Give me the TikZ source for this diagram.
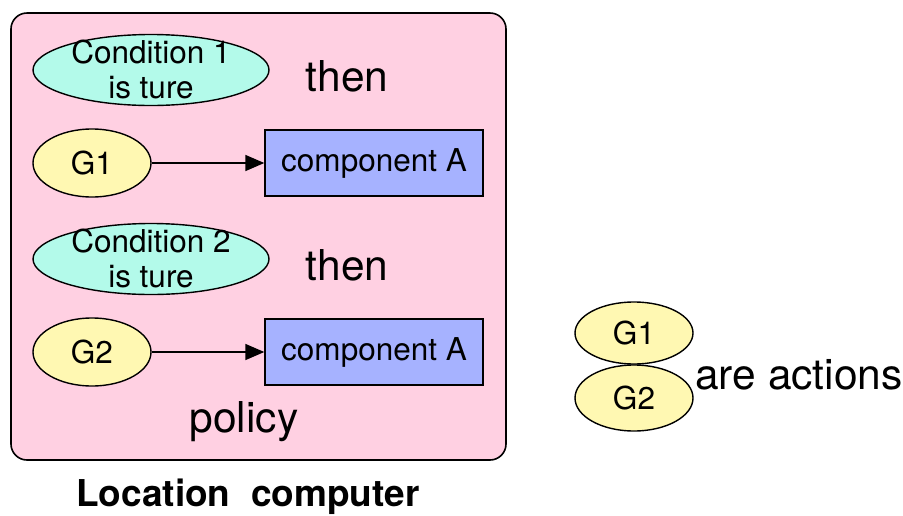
\documentclass[tikz,border=0pt]{standalone}
\usepackage{fontspec}
\setmainfont{TeX Gyre Heros}
\usetikzlibrary{shapes.geometric,arrows.meta}
\definecolor{pinkbg}{RGB}{255,208,226}
\definecolor{mint}{RGB}{179,250,234}
\definecolor{paleyellow}{RGB}{255,248,178}
\definecolor{paleblue}{RGB}{166,178,255}
\tikzset{
  container/.style={draw=black, line width=1.6pt, fill=pinkbg, rounded corners=16pt},
  condell/.style={ellipse, draw=black, line width=1.4pt, fill=mint, minimum width=236pt, minimum height=71pt, inner sep=0pt},
  gell/.style={ellipse, draw=black, line width=1.4pt, fill=paleyellow, minimum width=118pt, minimum height=68pt, inner sep=0pt, font=\fontsize{31.5}{35}\selectfont},
  compbox/.style={rectangle, draw=black, line width=1.4pt, fill=paleblue, minimum width=218pt, minimum height=66pt, inner sep=0pt, font=\fontsize{31.5}{35}\selectfont},
  midtxt/.style={font=\fontsize{31.5}{35}\selectfont, align=center, inner sep=0pt},
  bigtxt/.style={font=\fontsize{42.5}{48}\selectfont, inner sep=0pt},
  arr/.style={-{Triangle[length=19pt,width=16pt]}, line width=1.6pt},
}
\begin{document}
\begin{tikzpicture}[x=1pt,y=1pt]
\useasboundingbox (0,0) rectangle (903,-515);
\draw[container] (11,-13) rectangle (506,-460);
\node[condell] (c1) at (151,-70) {};
\node[midtxt] (c1t) at (151,-69) {Condition 1\\is ture};
\node[bigtxt] (then1) at (347,-76) {then};
\node[gell] (g1) at (92,-163) {G1};
\node[compbox] (a1) at (374,-163) {component A};
\draw[arr] (g1) -- (a1);
\node[condell] (c2) at (151,-259) {};
\node[midtxt] (c2t) at (151,-258) {Condition 2\\is ture};
\node[bigtxt] (then2) at (347,-265) {then};
\node[gell] (g2) at (92,-352) {G2};
\node[compbox] (a2) at (374,-352) {component A};
\draw[arr] (g2) -- (a2);
\node[bigtxt] (policy) at (244,-422) {policy};
\node[font=\bfseries\fontsize{37}{42}\selectfont, inner sep=0pt] (loc) at (248,-497) {Location\ \ computer};
\node[gell, minimum height=62pt] (rg1) at (634,-333) {G1};
\node[gell, minimum height=66pt] (rg2) at (634,-398) {G2};
\node[bigtxt, anchor=west] (act) at (695,-375) {are actions};
\end{tikzpicture}
\end{document}
